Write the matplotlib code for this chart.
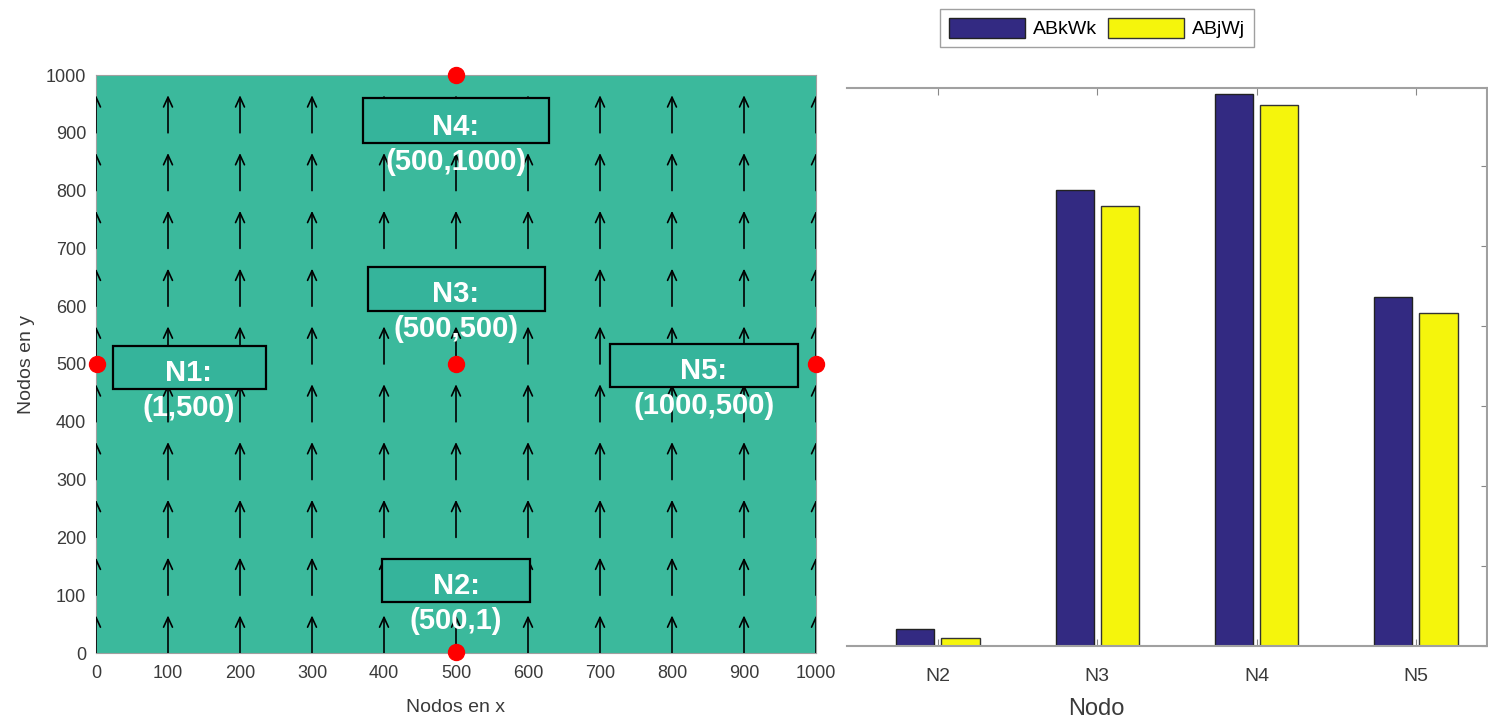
import numpy as np
import matplotlib.pyplot as plt
from matplotlib.patches import FancyArrowPatch, Rectangle

plt.rcParams['font.family'] = ['Liberation Sans', 'DejaVu Sans']

# campo de flechas (dirección +y en toda la malla)
grid_x = [0, 100, 200, 300, 400, 500, 600, 700, 800, 900, 1000]
grid_y = [0, 100, 200, 300, 400, 500, 600, 700, 800, 900]
arrow_len = 65

# nodos
nodos = ['N1', 'N2', 'N3', 'N4', 'N5']
nodo_x = [1, 500, 500, 500, 1000]
nodo_y = [500, 1, 500, 1000, 500]
etiquetas = ['(1,500)', '(500,1)', '(500,500)', '(500,1000)', '(1000,500)']
# cajas de texto (x0, x1, y0, y1) y posiciones de las etiquetas
cajas = [(24, 236, 457, 531), (397, 603, 88, 163), (378, 624, 592, 668),
         (371, 629, 882, 960), (714, 975, 460, 535)]
txt_x = [129, 500, 500, 500, 844]
txt_y = [484, 116, 621, 910, 488]

# barras
bar_cats = ['N2', 'N3', 'N4', 'N5']
abkwk = [0.21, 5.70, 6.90, 4.36]
abjwj = [0.10, 5.50, 6.76, 4.16]

fig = plt.figure(figsize=(14.88, 7.23), dpi=100)

# ---- panel izquierdo ----
ax = fig.add_axes([96/1488, 70/723, 720/1488, 578/723])
ax.set_facecolor('#3bb99c')
ax.set_xlim(0, 1000)
ax.set_ylim(0, 1000)
for gx in grid_x:
    for gy in grid_y:
        ax.add_patch(FancyArrowPatch((gx, gy), (gx, gy + arrow_len),
                                     arrowstyle='->,head_length=7,head_width=3.2',
                                     color='black', lw=1.2,
                                     shrinkA=0, shrinkB=0, zorder=2.6))

for i in range(len(nodos)):
    x0, x1, y0, y1 = cajas[i]
    ax.add_patch(Rectangle((x0, y0), x1 - x0, y1 - y0, facecolor='#35b49b',
                           edgecolor='black', lw=1.6, zorder=3))
    ax.text(txt_x[i], txt_y[i], nodos[i] + ':', color='white', fontsize=21,
            fontweight='bold', ha='center', va='center', zorder=4)
    ax.text(txt_x[i], txt_y[i] - 60, etiquetas[i], color='white', fontsize=21,
            fontweight='bold', ha='center', va='center', zorder=4)

ax.plot(nodo_x, nodo_y, 'o', color='red', ms=11.5, clip_on=False, zorder=5)

ax.set_xticks(grid_x)
ax.set_yticks(grid_x)
ax.tick_params(length=0, labelsize=13, colors='#3a3a3a')
ax.tick_params(axis='x', pad=9)
ax.tick_params(axis='y', pad=7)
for s in ax.spines.values():
    s.set_color('#a0a0a0')
ax.set_xlabel('Nodos en x', fontsize=14, color='#3a3a3a', labelpad=12)
ax.set_ylabel('Nodos en y', fontsize=14, color='#3a3a3a', labelpad=8)

# ---- panel derecho ----
ax2 = fig.add_axes([847/1488, 77/723, 640/1488, 558/723])
pos = np.arange(1, len(bar_cats) + 1)
b1 = ax2.bar(pos - 0.142, abkwk, 0.24, color='#332a82', edgecolor='#222222',
             lw=1, label='ABkWk')
b2 = ax2.bar(pos + 0.142, abjwj, 0.24, color='#f5f50c', edgecolor='#333333',
             lw=1, label='ABjWj')
ax2.set_xlim(0.429, 4.446)
ax2.set_ylim(0, 6.975)
ax2.set_xticks(pos)
ax2.set_xticklabels(bar_cats)
ax2.set_yticks(np.arange(0, 7))
ax2.tick_params(axis='x', direction='in', length=5, top=True, labelsize=14,
                colors='#888888', labelcolor='#3a3a3a', pad=16)
ax2.tick_params(axis='y', direction='in', length=4, left=False, right=True,
                labelleft=False, labelright=False, colors='#888888')
ax2.spines['left'].set_visible(False)
for k in ['top', 'bottom', 'right']:
    ax2.spines[k].set_color('#a0a0a0')
    ax2.spines[k].set_linewidth(1.5)
ax2.set_xlabel('Nodo', fontsize=17, color='#3a3a3a')
ax2.xaxis.set_label_coords((1096 - 847) / 640, -0.094)

fig.legend(handles=[b1, b2], loc='center', bbox_to_anchor=(1097/1488, 1 - 28/723),
           ncol=2, fontsize=14, frameon=True, fancybox=False, edgecolor='#888888',
           handlelength=3.9, handleheight=1.2, columnspacing=0.6, handletextpad=0.4,
           borderpad=0.45)

fig.savefig('out.png', dpi=100)
